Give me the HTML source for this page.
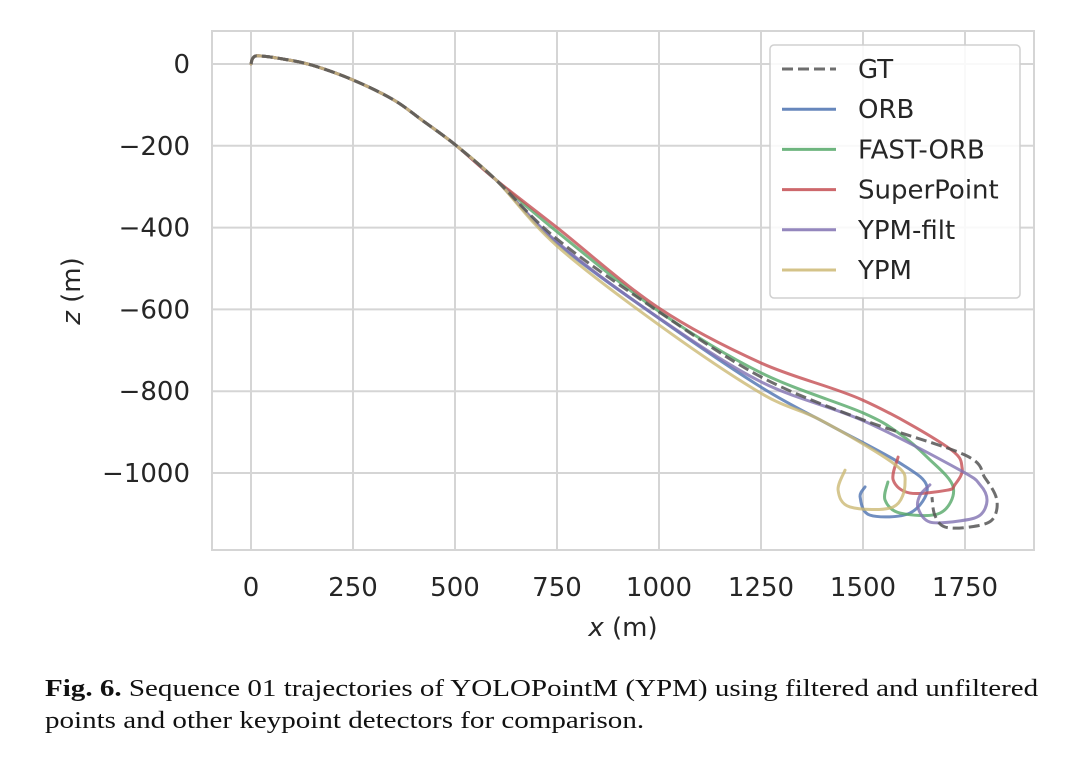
<!DOCTYPE html>
<html><head><meta charset="utf-8"><style>
body{margin:0;background:#fff;width:1080px;height:763px;overflow:hidden}
svg text{font-family:"DejaVu Sans","Liberation Sans",sans-serif;fill:#262626}
.cap{position:absolute;left:45px;top:673px;font-family:"Liberation Serif",serif;font-size:24.3px;color:#111;line-height:32px;white-space:nowrap;transform:scaleX(1.195);transform-origin:0 0}
</style></head><body>
<svg id="chart" width="1080" height="763" style="position:absolute;left:0;top:0">
<rect x="212" y="31" width="822" height="519" fill="#fff" stroke="#d5d5d5" stroke-width="2"/>
<g id="grid"></g><g id="ticks"></g><g id="series"></g>
<text x="623" y="636" font-size="26" text-anchor="middle"><tspan font-style="italic">x</tspan> (m)</text>
<text transform="translate(80,291) rotate(-90)" font-size="26" text-anchor="middle"><tspan font-style="italic">z</tspan> (m)</text>
<g id="legend"><rect x="770" y="45" width="250" height="253" rx="4" fill="#fff" fill-opacity="0.85" stroke="#d0d0d0" stroke-width="1.5"/></g>
</svg>
<div class="cap"><b>Fig. 6.</b> Sequence 01 trajectories of YOLOPointM (YPM) using filtered and unfiltered<br>points and other keypoint detectors for comparison.</div>
<script>
const xTicks=[0,250,500,750,1000,1250,1500,1750];
const zTicks=[0,-200,-400,-600,-800,-1000];
const seriesNames=["GT","ORB","FAST-ORB","SuperPoint","YPM-filt","YPM"];
const common=[[0,0],[5,15],[20,20],[80,12],[150,-3],[250,-39],[350,-88],[420,-138],[500,-197],[600,-283]];
const gtPts=[[750,-428],[1000,-606],[1250,-765],[1500,-870],[1750,-956],[1799,-1012],[1828,-1066],[1816,-1115],[1762,-1132],[1701,-1132],[1676,-1103],[1669,-1059]];
const orbPts=[[750,-438],[1000,-622],[1250,-790],[1419,-883],[1591,-976],[1657,-1034],[1615,-1098],[1517,-1103],[1493,-1059],[1505,-1034]];
const fastPts=[[750,-410],[1000,-605],[1250,-755],[1500,-853],[1591,-905],[1657,-961],[1721,-1034],[1689,-1098],[1591,-1098],[1554,-1066],[1561,-1022]];
const spPts=[[750,-400],[1000,-597],[1250,-731],[1500,-822],[1706,-936],[1743,-988],[1725,-1029],[1706,-1042],[1615,-1049],[1574,-1017],[1586,-961]];
const filtPts=[[750,-435],[1000,-621],[1250,-777],[1500,-872],[1738,-993],[1787,-1029],[1804,-1066],[1787,-1103],[1738,-1117],[1664,-1120],[1635,-1086],[1640,-1054],[1664,-1029]];
const ypmPts=[[750,-445],[1000,-638],[1250,-805],[1395,-870],[1574,-976],[1603,-1024],[1574,-1083],[1468,-1083],[1439,-1042],[1456,-993]];
const colors=["#555555","#4c72b0","#55a868","#c44e52","#8172b2","#ccb974"];
const X=v=>251+v*0.408, Z=v=>64-v*0.409;
const NS="http://www.w3.org/2000/svg";
function mk(t,a,p){const e=document.createElementNS(NS,t);for(const k in a)e.setAttribute(k,a[k]);p.appendChild(e);return e;}
const grid=document.getElementById('grid'),ticks=document.getElementById('ticks');
xTicks.forEach(v=>{const l=mk('line',{x1:X(v),x2:X(v),y1:31,y2:550,stroke:'#d5d5d5','stroke-width':2},grid);


const t=mk('text',{x:X(v),y:596,'font-size':26,'text-anchor':'middle'},ticks);t.textContent=v;

});
zTicks.forEach(v=>{const l=mk('line',{x1:212,x2:1034,y1:Z(v),y2:Z(v),stroke:'#d5d5d5','stroke-width':2},grid);


const t=mk('text',{x:190,y:Z(v)+9,'font-size':26,'text-anchor':'end'},ticks);t.textContent=v<0?'\u2212'+(-v):v;

});
function pathD(pts){const p=pts.map(q=>[X(q[0]),Z(q[1])]);let d='M'+p[0][0]+','+p[0][1];
for(let i=0;i<p.length-1;i++){const a=p[i-1]||p[i],b=p[i],c=p[i+1],e=p[i+2]||c;
d+=' C'+(b[0]+(c[0]-a[0])/6)+','+(b[1]+(c[1]-a[1])/6)+' '+(c[0]-(e[0]-b[0])/6)+','+(c[1]-(e[1]-b[1])/6)+' '+c[0]+','+c[1];}return d;}
const all=[gtPts,orbPts,fastPts,spPts,filtPts,ypmPts];
const ser=document.getElementById('series');
const order=[1,2,3,4,5,0];
order.forEach(i=>{const p=mk('path',{d:pathD(common.concat(all[i])),fill:'none',stroke:colors[i],'stroke-width':3,'stroke-opacity':i==0?0.85:0.8,'stroke-linejoin':'round','stroke-linecap':i==0?'butt':'round'},ser);
if(i==0)p.setAttribute('stroke-dasharray','11,5');

});
const leg=document.getElementById('legend');
seriesNames.forEach((n,i)=>{const y=69+i*40.2;
const g=mk('g',{},leg);


const l=mk('line',{x1:782,x2:836,y1:y,y2:y,stroke:colors[i],'stroke-width':3,'stroke-opacity':0.85},g);
if(i==0)l.setAttribute('stroke-dasharray','11,5');
const t=mk('text',{x:858,y:y+9,'font-size':26},g);t.textContent=n;});
</script>
</body></html>
